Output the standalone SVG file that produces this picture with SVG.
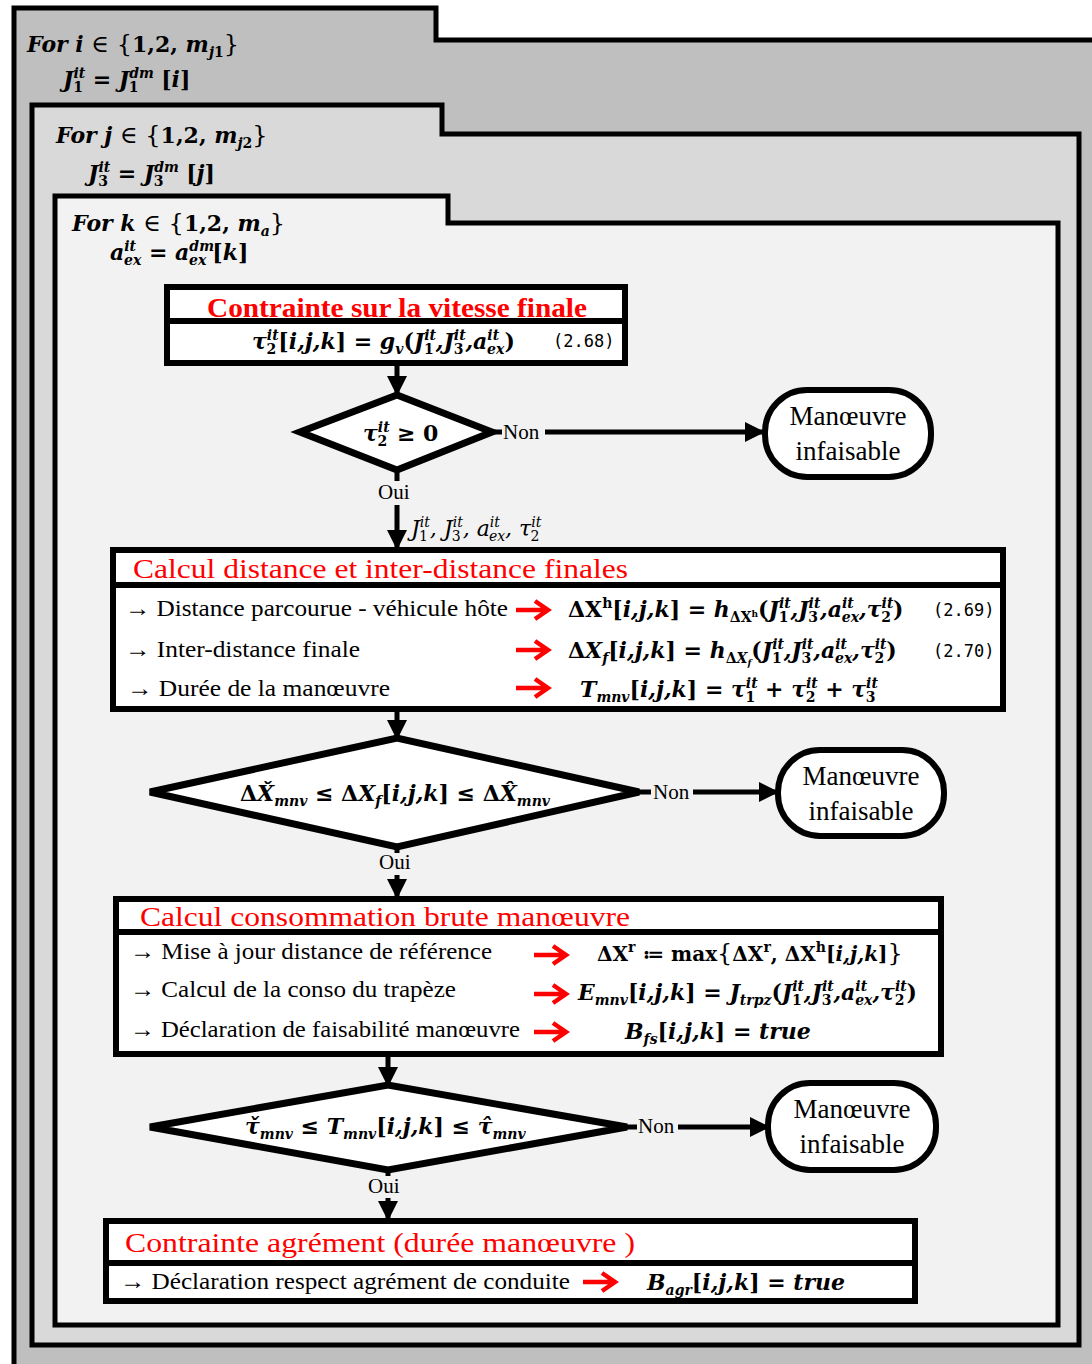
<svg xmlns="http://www.w3.org/2000/svg" width="1092" height="1364" viewBox="0 0 1092 1364">
<defs>
<marker id="ah" viewBox="0 0 10 10" refX="9" refY="5" markerWidth="20" markerHeight="20" markerUnits="userSpaceOnUse" orient="auto"><path d="M0,0 L10,5 L0,10 z" fill="#000"/></marker>
<style>
.loop{stroke:#000;stroke-width:5;stroke-linejoin:miter}
.box{fill:#fff;stroke:#000;stroke-width:6}
.dv{stroke:#000;stroke-width:6}
.dia{fill:#fff;stroke:#000;stroke-width:7;stroke-linejoin:miter}
.term{fill:#fff;stroke:#000;stroke-width:6}
.conn{stroke:#000;stroke-width:5;fill:none}
.ra{stroke:#f00;stroke-width:4.5;fill:none;stroke-linejoin:miter}
.t{font-family:"Liberation Serif","Times New Roman",Tinos,"DejaVu Serif",serif;font-size:24px;fill:#000}
.lbl{font-family:"Liberation Serif","Times New Roman",Tinos,"DejaVu Serif",serif;font-size:21px;fill:#000}
.tt{font-family:"Liberation Serif","Times New Roman",Tinos,"DejaVu Serif",serif;font-size:27px;text-anchor:middle;fill:#000}
.title{font-family:"Liberation Serif","Times New Roman",Tinos,"DejaVu Serif",serif;fill:#f00;font-size:28px}
.m{font-family:"DejaVu Serif",serif;font-weight:bold;font-style:italic;font-size:22px;fill:#000}
.u{font-style:normal}
.n{font-weight:normal}
.s{font-size:14px}
.mono{font-family:"DejaVu Sans Mono",monospace;font-size:17px;fill:#000}
</style>
</defs>

<g id="loop-i">
<polygon class="loop" fill="#bfbfbf" points="14,8 436,8 436,40 1100,40 1100,1372 14,1372"/>
<text class="m" x="27" y="52">For i<tspan class="u n" style="font-size:24px"> ∈ {</tspan><tspan class="u">1,2, </tspan>m<tspan class="s" dy="5">j</tspan><tspan class="s u">1</tspan><tspan class="u n" dy="-5" style="font-size:24px">}</tspan></text>
<text class="m" x="63" y="87">J<tspan class="s" dy="-9">it</tspan><tspan class="s u" dx="-12" dy="14">1</tspan><tspan class="u" dy="-5" dx="2"> = </tspan>J<tspan class="s" dy="-9">dm</tspan><tspan class="s u" dx="-25" dy="14">1</tspan><tspan class="u" dy="-5" dx="15"> [</tspan>i<tspan class="u">]</tspan></text>
</g>

<g id="loop-j">
<polygon class="loop" fill="#d9d9d9" points="32,105 442,105 442,134 1079,134 1079,1345 32,1345"/>
<text class="m" x="56" y="143">For j<tspan class="u n" style="font-size:24px"> ∈ {</tspan><tspan class="u">1,2, </tspan>m<tspan class="s" dy="5">j</tspan><tspan class="s u">2</tspan><tspan class="u n" dy="-5" style="font-size:24px">}</tspan></text>
<text class="m" x="88" y="181">J<tspan class="s" dy="-9">it</tspan><tspan class="s u" dx="-12" dy="14">3</tspan><tspan class="u" dy="-5" dx="2"> = </tspan>J<tspan class="s" dy="-9">dm</tspan><tspan class="s u" dx="-25" dy="14">3</tspan><tspan class="u" dy="-5" dx="15"> [</tspan>j<tspan class="u">]</tspan></text>
</g>

<g id="loop-k">
<polygon class="loop" fill="#f2f2f2" points="55,196 448,196 448,223 1058,223 1058,1325 55,1325"/>
<text class="m" x="72" y="231">For k<tspan class="u n" style="font-size:24px"> ∈ {</tspan><tspan class="u">1,2, </tspan>m<tspan class="s" dy="5">a</tspan><tspan class="u n" dy="-5" style="font-size:24px">}</tspan></text>
<text class="m" x="110" y="260">a<tspan class="s" dy="-9">it</tspan><tspan class="s" dx="-12" dy="14">ex</tspan><tspan class="u" dy="-5"> = </tspan>a<tspan class="s" dy="-9">dm</tspan><tspan class="s" dx="-25" dy="14">ex</tspan><tspan class="u" dy="-5" dx="6">[</tspan>k<tspan class="u">]</tspan></text>
</g>

<g id="connectors">
<line class="conn" x1="397" y1="363" x2="397" y2="394" marker-end="url(#ah)"/>
<line class="conn" x1="492" y1="432" x2="502" y2="432"/>
<line class="conn" x1="545" y1="432" x2="763" y2="432" marker-end="url(#ah)"/>
<line class="conn" x1="397" y1="470" x2="397" y2="481"/>
<line class="conn" x1="397" y1="505" x2="397" y2="548" marker-end="url(#ah)"/>
<line class="conn" x1="397" y1="709" x2="397" y2="738" marker-end="url(#ah)"/>
<line class="conn" x1="639" y1="792" x2="651" y2="792"/>
<line class="conn" x1="693" y1="792" x2="777" y2="792" marker-end="url(#ah)"/>
<line class="conn" x1="397" y1="847" x2="397" y2="853"/>
<line class="conn" x1="397" y1="875" x2="397" y2="897" marker-end="url(#ah)"/>
<line class="conn" x1="388" y1="1054" x2="388" y2="1085" marker-end="url(#ah)"/>
<line class="conn" x1="627" y1="1127" x2="637" y2="1127"/>
<line class="conn" x1="678" y1="1127" x2="768" y2="1127" marker-end="url(#ah)"/>
<line class="conn" x1="388" y1="1170" x2="388" y2="1176"/>
<line class="conn" x1="388" y1="1198" x2="388" y2="1219" marker-end="url(#ah)"/>
<text class="lbl" x="503" y="439">Non</text>
<text class="lbl" x="378" y="499">Oui</text>
<text class="m n" x="411" y="536">J<tspan class="s" dy="-9">it</tspan><tspan class="s u" dx="-11" dy="14">1</tspan><tspan dy="-5" dx="2">, J</tspan><tspan class="s" dy="-9">it</tspan><tspan class="s u" dx="-11" dy="14">3</tspan><tspan dy="-5" dx="2">, a</tspan><tspan class="s" dy="-9">it</tspan><tspan class="s" dx="-11" dy="14">ex</tspan><tspan dy="-5">, τ</tspan><tspan class="s" dy="-9">it</tspan><tspan class="s u" dx="-11" dy="14">2</tspan></text>
<text class="lbl" x="653" y="799">Non</text>
<text class="lbl" x="379" y="869">Oui</text>
<text class="lbl" x="638" y="1133">Non</text>
<text class="lbl" x="368" y="1193">Oui</text>
</g>

<g id="box-vitesse">
<rect class="box" x="167" y="287" width="458" height="76"/>
<text class="title" x="397" y="317" text-anchor="middle" textLength="380" lengthAdjust="spacingAndGlyphs" font-weight="bold">Contrainte sur la vitesse finale</text>
<line class="dv" x1="167" y1="321" x2="625" y2="321"/>
<text class="m" x="252" y="349">τ<tspan class="s" dy="-9">it</tspan><tspan class="s u" dx="-12" dy="14">2</tspan><tspan class="u" dy="-5" dx="2">[</tspan>i,j,k<tspan class="u">] = </tspan>g<tspan class="s" dy="5">v</tspan><tspan class="u" dy="-5">(</tspan>J<tspan class="s" dy="-9">it</tspan><tspan class="s u" dx="-12" dy="14">1</tspan><tspan dy="-5" dx="2">,J</tspan><tspan class="s" dy="-9">it</tspan><tspan class="s u" dx="-12" dy="14">3</tspan><tspan dy="-5" dx="2">,a</tspan><tspan class="s" dy="-9">it</tspan><tspan class="s" dx="-12" dy="14">ex</tspan><tspan class="u" dy="-5">)</tspan></text>
<text class="mono" x="553" y="347">(2.68)</text>
</g>

<g id="dec-tau2">
<polygon class="dia" points="300,432 397,395 492,432 397,470"/>
<text class="m" x="363" y="441">τ<tspan class="s" dy="-9">it</tspan><tspan class="s u" dx="-12" dy="14">2</tspan><tspan class="u" dy="-5" dx="2"> ≥ 0</tspan></text>
</g>

<g id="term-1">
<rect class="term" x="765" y="390" width="166" height="87" rx="42" ry="42"/>
<text class="tt" x="848" y="425">Manœuvre</text>
<text class="tt" x="848" y="460">infaisable</text>
</g>

<g id="box-distance">
<rect class="box" x="113" y="550" width="890" height="159"/>
<text class="title" x="133" y="578" textLength="495" lengthAdjust="spacingAndGlyphs">Calcul distance et inter-distance finales</text>
<line class="dv" x1="113" y1="585" x2="1003" y2="585"/>
<text class="t" x="125" y="616" textLength="383" lengthAdjust="spacingAndGlyphs">→ Distance parcourue - véhicule hôte</text>
<text class="t" x="125" y="657" textLength="235" lengthAdjust="spacingAndGlyphs">→ Inter-distance finale</text>
<text class="t" x="127" y="696" textLength="263" lengthAdjust="spacingAndGlyphs">→ Durée de la manœuvre</text>
<path class="ra" d="M516,610 h31 M535,601 l13,9 l-13,9"/>
<path class="ra" d="M516,650 h31 M535,641 l13,9 l-13,9"/>
<path class="ra" d="M516,688 h31 M535,679 l13,9 l-13,9"/>
<text class="m" x="568" y="617"><tspan class="u">ΔX</tspan><tspan class="s u" dy="-9">h</tspan><tspan class="u" dy="9">[</tspan>i,j,k<tspan class="u">] = </tspan>h<tspan class="s u" dy="5">ΔX</tspan><tspan class="u" style="font-size:9px" dy="-5">h</tspan><tspan class="u">(</tspan>J<tspan class="s" dy="-9">it</tspan><tspan class="s u" dx="-12" dy="14">1</tspan><tspan dy="-5" dx="2">,J</tspan><tspan class="s" dy="-9">it</tspan><tspan class="s u" dx="-12" dy="14">3</tspan><tspan dy="-5" dx="2">,a</tspan><tspan class="s" dy="-9">it</tspan><tspan class="s" dx="-12" dy="14">ex</tspan><tspan dy="-5">,τ</tspan><tspan class="s" dy="-9">it</tspan><tspan class="s u" dx="-12" dy="14">2</tspan><tspan class="u" dy="-5" dx="2">)</tspan></text>
<text class="mono" x="933" y="616">(2.69)</text>
<text class="m" x="568" y="658"><tspan class="u">Δ</tspan>X<tspan class="s" dy="5">f</tspan><tspan class="u" dy="-5">[</tspan>i,j,k<tspan class="u">] = </tspan>h<tspan class="s u" dy="5">Δ</tspan><tspan class="s">X</tspan><tspan style="font-size:9px" dy="3">f</tspan><tspan class="u" dy="-8">(</tspan>J<tspan class="s" dy="-9">it</tspan><tspan class="s u" dx="-12" dy="14">1</tspan><tspan dy="-5" dx="2">,J</tspan><tspan class="s" dy="-9">it</tspan><tspan class="s u" dx="-12" dy="14">3</tspan><tspan dy="-5" dx="2">,a</tspan><tspan class="s" dy="-9">it</tspan><tspan class="s" dx="-12" dy="14">ex</tspan><tspan dy="-5">,τ</tspan><tspan class="s" dy="-9">it</tspan><tspan class="s u" dx="-12" dy="14">2</tspan><tspan class="u" dy="-5" dx="2">)</tspan></text>
<text class="mono" x="933" y="657">(2.70)</text>
<text class="m" x="580" y="697">T<tspan class="s" dy="5">mnv</tspan><tspan class="u" dy="-5">[</tspan>i,j,k<tspan class="u">] = </tspan>τ<tspan class="s" dy="-9">it</tspan><tspan class="s u" dx="-12" dy="14">1</tspan><tspan class="u" dy="-5" dx="2"> + </tspan>τ<tspan class="s" dy="-9">it</tspan><tspan class="s u" dx="-12" dy="14">2</tspan><tspan class="u" dy="-5" dx="2"> + </tspan>τ<tspan class="s" dy="-9">it</tspan><tspan class="s u" dx="-12" dy="14">3</tspan></text>
</g>

<g id="dec-distance">
<polygon class="dia" points="150,792 397,738 639,792 397,847"/>
<text class="m" x="240" y="801"><tspan class="u">Δ</tspan>X̌<tspan class="s" dy="5">mnv</tspan><tspan class="u" dy="-5"> ≤ Δ</tspan>X<tspan class="s" dy="5">f</tspan><tspan class="u" dy="-5">[</tspan>i,j,k<tspan class="u">] ≤ Δ</tspan>X̂<tspan class="s" dy="5">mnv</tspan></text>
</g>

<g id="term-2">
<rect class="term" x="778" y="750" width="166" height="86" rx="42" ry="42"/>
<text class="tt" x="861" y="785">Manœuvre</text>
<text class="tt" x="861" y="820">infaisable</text>
</g>

<g id="box-consommation">
<rect class="box" x="116" y="899" width="825" height="155"/>
<text class="title" x="140" y="926" textLength="490" lengthAdjust="spacingAndGlyphs">Calcul consommation brute manœuvre</text>
<line class="dv" x1="116" y1="932" x2="941" y2="932"/>
<text class="t" x="130" y="959" textLength="362" lengthAdjust="spacingAndGlyphs">→ Mise à jour distance de référence</text>
<text class="t" x="130" y="997" textLength="326" lengthAdjust="spacingAndGlyphs">→ Calcul de la conso du trapèze</text>
<text class="t" x="130" y="1037" textLength="390" lengthAdjust="spacingAndGlyphs">→ Déclaration de faisabilité manœuvre</text>
<path class="ra" d="M534,955 h31 M553,946 l13,9 l-13,9"/>
<path class="ra" d="M534,994 h31 M553,985 l13,9 l-13,9"/>
<path class="ra" d="M534,1032 h31 M553,1023 l13,9 l-13,9"/>
<text class="m" x="597" y="961" style="font-size:20px"><tspan class="u">ΔX</tspan><tspan class="s u" dy="-9">r</tspan><tspan class="u" dy="9"> ≔ max</tspan><tspan class="u n" style="font-size:24px">{</tspan><tspan class="u">ΔX</tspan><tspan class="s u" dy="-9">r</tspan><tspan class="u" dy="9">, ΔX</tspan><tspan class="s u" dy="-9">h</tspan><tspan class="u" dy="9">[</tspan>i,j,k<tspan class="u">]</tspan><tspan class="u n" style="font-size:24px">}</tspan></text>
<text class="m" x="578" y="1000">E<tspan class="s" dy="5">mnv</tspan><tspan class="u" dy="-5">[</tspan>i,j,k<tspan class="u">] = </tspan>J<tspan class="s" dy="5">trpz</tspan><tspan class="u" dy="-5">(</tspan>J<tspan class="s" dy="-9">it</tspan><tspan class="s u" dx="-12" dy="14">1</tspan><tspan dy="-5" dx="2">,J</tspan><tspan class="s" dy="-9">it</tspan><tspan class="s u" dx="-12" dy="14">3</tspan><tspan dy="-5" dx="2">,a</tspan><tspan class="s" dy="-9">it</tspan><tspan class="s" dx="-12" dy="14">ex</tspan><tspan dy="-5">,τ</tspan><tspan class="s" dy="-9">it</tspan><tspan class="s u" dx="-12" dy="14">2</tspan><tspan class="u" dy="-5" dx="2">)</tspan></text>
<text class="m" x="625" y="1039">B<tspan class="s" dy="5">fs</tspan><tspan class="u" dy="-5">[</tspan>i,j,k<tspan class="u">] = </tspan>true</text>
</g>

<g id="dec-duree">
<polygon class="dia" points="150,1127 388,1085 627,1127 388,1170"/>
<text class="m" x="245" y="1134">τ̌<tspan class="s" dy="5">mnv</tspan><tspan class="u" dy="-5"> ≤ </tspan>T<tspan class="s" dy="5">mnv</tspan><tspan class="u" dy="-5">[</tspan>i,j,k<tspan class="u">] ≤ </tspan>τ̂<tspan class="s" dy="5">mnv</tspan></text>
</g>

<g id="term-3">
<rect class="term" x="768" y="1083" width="168" height="87" rx="42" ry="42"/>
<text class="tt" x="852" y="1118">Manœuvre</text>
<text class="tt" x="852" y="1153">infaisable</text>
</g>

<g id="box-agrement">
<rect class="box" x="106" y="1221" width="809" height="80"/>
<text class="title" x="125" y="1252" textLength="510" lengthAdjust="spacingAndGlyphs">Contrainte agrément (durée manœuvre )</text>
<line class="dv" x1="106" y1="1263" x2="915" y2="1263"/>
<text class="t" x="120" y="1289" textLength="450" lengthAdjust="spacingAndGlyphs">→ Déclaration respect agrément de conduite</text>
<path class="ra" d="M583,1282 h31 M602,1273 l13,9 l-13,9"/>
<text class="m" x="647" y="1290">B<tspan class="s" dy="5">agr</tspan><tspan class="u" dy="-5">[</tspan>i,j,k<tspan class="u">] = </tspan>true</text>
</g>
</svg>
